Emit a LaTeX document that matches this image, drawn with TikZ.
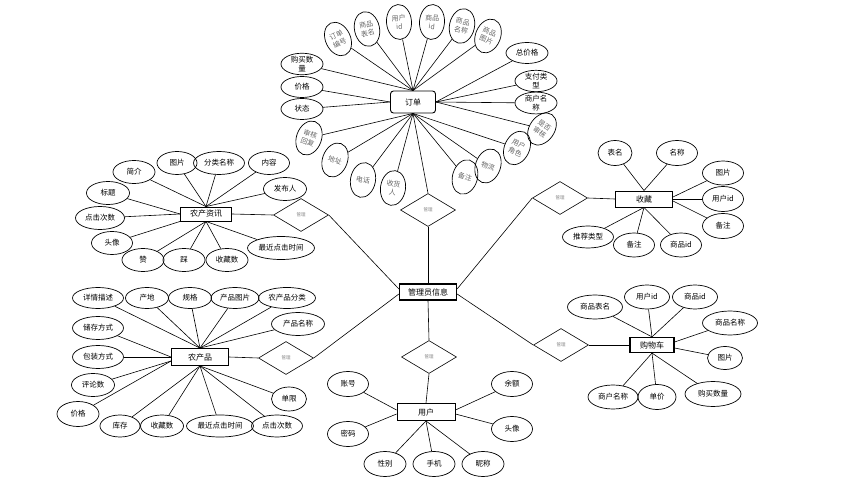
\documentclass[tikz,border=0pt]{standalone}
\usepackage{fontspec}
\setmainfont{Noto Sans CJK SC}
\usetikzlibrary{shapes.geometric}
\begin{document}
\begin{tikzpicture}[x=1pt,y=-1pt,
 attr/.style={ellipse, draw, line width=0.7pt, inner sep=0pt, minimum width=42pt, minimum height=23pt, font=\fontsize{7.5}{8.5}\selectfont, align=center},
 rattr/.style={attr, minimum width=25pt, minimum height=35pt, text=black!60, font=\fontsize{7}{8.5}\selectfont},
 ent/.style={draw, line width=0.9pt, inner sep=0pt, minimum width=57pt, minimum height=16pt, font=\fontsize{8}{9}\selectfont},
 rel/.style={diamond, draw, line width=0.6pt, inner sep=0pt, aspect=1.67, minimum width=55pt, minimum height=33pt, font=\fontsize{4.5}{5}\selectfont, text=black!50},
 conn/.style={line width=0.6pt}]
\useasboundingbox (0,0) rectangle (844,486);
% ---------- entities ----------
\node[ent, rounded corners=3pt, minimum width=45pt, minimum height=22pt] (dd) at (413,102) {订单};
\node[ent, line width=1.2pt] (gl) at (428,292) {管理员信息};
\node[ent, minimum width=51pt, minimum height=14pt] (zx) at (206,214) {农产资讯};
\node[ent, minimum height=17pt] (cp) at (200,357) {农产品};
\node[ent] (sc) at (644,199) {收藏};
\node[ent, line width=1.2pt, minimum width=44pt, minimum height=15pt] (gw) at (652,345) {购物车};
\node[ent, minimum width=58pt, minimum height=17pt] (yh) at (426,412) {用户};
% ---------- relationships ----------
\node[rel] (r1) at (428,210) {管理};
\node[rel] (r2) at (301,215) {管理};
\node[rel] (r3) at (286,358) {管理};
\node[rel] (r4) at (560,198) {管理};
\node[rel] (r5) at (561,345) {管理};
\node[rel] (r6) at (429,357) {管理};
\draw[conn] (dd.south) -- (r1.north);
\draw[conn] (r1.south) -- (gl.north);
\draw[conn] (zx.east) -- (r2.west);
\draw[conn] (r2.east) -- ([yshift=3pt]gl.west);
\draw[conn] (cp.east) -- (r3.west);
\draw[conn] (r3.east) -- ([yshift=-2pt]gl.west);
\draw[conn] ([yshift=3pt]gl.east) -- (r4.west);
\draw[conn] (r4.east) -- (sc.west);
\draw[conn] ([yshift=-2pt]gl.east) -- (r5.west);
\draw[conn] (r5.east) -- (gw.west);
\draw[conn] (gl.south) -- (r6.north);
\draw[conn] (r6.south) -- (yh.north);
% ---------- 订单 attributes ----------
\node[rattr, rotate=25] (o1) at (338,39) {订单\\编号};
\node[rattr, rotate=12] (o2) at (367,29) {商品\\表名};
\node[rattr, rotate=4] (o3) at (399,22) {用户\\id};
\node[rattr, rotate=-4] (o4) at (432,22) {商品\\id};
\node[rattr, rotate=-12] (o5) at (462,26) {商品\\名称};
\node[rattr, rotate=-22] (o6) at (488,36) {商品\\图片};
\node[attr, minimum height=21pt] (o7) at (527,53) {总价格};
\node[attr, minimum height=20pt] (o8) at (536,81) {支付类\\型};
\node[attr, minimum height=20pt] (o9) at (536,103) {商户名\\称};
\node[rattr, rotate=-35] (o10) at (542,129) {是否\\审核};
\node[rattr, rotate=-25] (o11) at (517,148) {用户\\角色};
\node[rattr, rotate=-20] (o12) at (488,166) {物流};
\node[rattr, rotate=-15] (o13) at (465,177) {备注};
\node[rattr, rotate=-8] (o14) at (393,188) {收货\\人};
\node[rattr, rotate=-10] (o15) at (363,180) {电话};
\node[rattr, rotate=-20] (o16) at (335,160) {地址};
\node[rattr, rotate=-20] (o17) at (309,138) {审核\\回复};
\node[attr, minimum height=21pt] (o18) at (302,109) {状态};
\node[attr, minimum height=21pt] (o19) at (302,87) {价格};
\node[attr, minimum height=21pt] (o20) at (302,64) {购买数\\量};
\foreach \n in {o1,o2,o3,o4,o5,o6,o20} \draw[conn] (\n) -- (dd.north);
\foreach \n in {o7,o8,o9,o10} \draw[conn] (\n) -- (dd.east);
\foreach \n in {o18,o19} \draw[conn] (\n) -- (dd.west);
\foreach \n in {o11,o12,o13,o14,o15,o16,o17} \draw[conn] (\n) -- (dd.south);
% ---------- 农产资讯 attributes ----------
\node[attr] (z1) at (134,172) {简介};
\node[attr, minimum width=40pt] (z2) at (177,163) {图片};
\node[attr, minimum width=51pt] (z3) at (219,163) {分类名称};
\node[attr, minimum width=41pt] (z4) at (269,163) {内容};
\node[attr, minimum width=43pt] (z5) at (285,189) {发布人};
\node[attr, minimum width=43pt] (z6) at (108,193) {标题};
\node[attr, minimum width=49pt] (z7) at (100,218) {点击次数};
\node[attr, minimum width=41pt] (z8) at (112,243) {头像};
\node[attr] (z9) at (143,260) {赞};
\node[attr] (z10) at (184,260) {踩};
\node[attr] (z11) at (227,260) {收藏数};
\node[attr, minimum width=67pt] (z12) at (281,248) {最近点击时间};
\foreach \n in {z1,z2,z3,z4,z5} \draw[conn] (\n) -- (zx.north);
\foreach \n in {z6,z7} \draw[conn] (\n) -- (zx.west);
\draw[conn] (z8) -- (zx.south west);
\foreach \n in {z9,z10,z11,z12} \draw[conn] (\n) -- (zx.south);
% ---------- 农产品 attributes ----------
\node[attr, minimum width=51pt, minimum height=21pt] (p1) at (98,298) {详情描述};
\node[attr, minimum width=43pt, minimum height=21pt] (p2) at (147,298) {产地};
\node[attr, minimum width=43pt, minimum height=21pt] (p3) at (190,298) {规格};
\node[attr, minimum width=48pt, minimum height=21pt] (p4) at (235,298) {产品图片};
\node[attr, minimum width=57pt, minimum height=21pt] (p5) at (287,298) {农产品分类};
\node[attr, minimum width=53pt] (p6) at (298,324) {产品名称};
\node[attr, minimum width=51pt] (p7) at (98,328) {储存方式};
\node[attr, minimum width=51pt] (p8) at (98,357) {包装方式};
\node[attr, minimum width=43pt] (p9) at (93,385) {评论数};
\node[attr, minimum height=25pt] (p10) at (78,414) {价格};
\node[attr, minimum width=40pt, minimum height=22pt] (p11) at (120,426) {库存};
\node[attr, minimum width=43pt, minimum height=22pt] (p12) at (162,426) {收藏数};
\node[attr, minimum width=67pt, minimum height=22pt] (p13) at (220,426) {最近点击时间};
\node[attr, minimum width=51pt, minimum height=22pt] (p14) at (277,426) {点击次数};
\node[attr, minimum width=35pt, minimum height=24pt] (p15) at (289,399) {单限};
\foreach \n in {p1,p2,p3,p4,p5,p6} \draw[conn] (\n) -- (cp.north);
\foreach \n in {p7,p8} \draw[conn] (\n) -- (cp.west);
\foreach \n in {p9,p10} \draw[conn] (\n) -- ([yshift=-4pt]cp.west);
\foreach \n in {p11,p12,p13,p14,p15} \draw[conn] (\n) -- (cp.south);
% ---------- 收藏 attributes ----------
\node[attr, minimum width=34pt, minimum height=25pt] (s1) at (615,153) {表名};
\node[attr, minimum width=41pt, minimum height=25pt] (s2) at (677,153) {名称};
\node[attr, minimum width=41pt, minimum height=24pt] (s3) at (723,173) {图片};
\node[attr, minimum width=41pt, minimum height=25pt] (s4) at (723,199) {用户id};
\node[attr, minimum width=41pt, minimum height=25pt] (s5) at (723,226) {备注};
\node[attr, minimum width=51pt, minimum height=22pt] (s6) at (588,237) {推荐类型};
\node[attr, minimum width=41pt, minimum height=24pt] (s7) at (634,245) {备注};
\node[attr, minimum width=41pt, minimum height=24pt] (s8) at (681,245) {商品id};
\foreach \n in {s1,s2} \draw[conn] (\n) -- (sc.north);
\draw[conn] (s3) -- ([yshift=2pt]sc.east);
\draw[conn] (s4) -- (sc.east);
\draw[conn] (s5) -- ([yshift=-2pt]sc.east);
\foreach \n in {s6,s7,s8} \draw[conn] (\n) -- (sc.south);
% ---------- 购物车 attributes ----------
\node[attr, minimum width=55pt, minimum height=24pt] (g1) at (595,307) {商品表名};
\node[attr, minimum width=45pt, minimum height=24pt] (g2) at (647,297) {用户id};
\node[attr, minimum width=45pt, minimum height=24pt] (g3) at (695,297) {商品id};
\node[attr, minimum width=55pt, minimum height=24pt] (g4) at (730,323) {商品名称};
\node[attr, minimum width=35pt, minimum height=23pt] (g5) at (725,358) {图片};
\node[attr, minimum width=50pt, minimum height=24pt] (g6) at (613,397) {商户名称};
\node[attr, minimum width=38pt, minimum height=25pt] (g7) at (657,397) {单价};
\node[attr, minimum width=56pt, minimum height=25pt] (g8) at (713,394) {购买数量};
\foreach \n in {g1,g2,g3} \draw[conn] (\n) -- (gw.north);
\draw[conn] (g4) -- ([yshift=3pt]gw.east);
\draw[conn] (g5) -- ([yshift=-3pt]gw.east);
\foreach \n in {g6,g7,g8} \draw[conn] (\n) -- (gw.south);
% ---------- 用户 attributes ----------
\node[attr, minimum width=41pt, minimum height=25pt] (u1) at (348,384) {账号};
\node[attr, minimum width=41pt, minimum height=25pt] (u2) at (348,434) {密码};
\node[attr, minimum width=42pt, minimum height=25pt] (u3) at (385,464) {性别};
\node[attr, minimum width=42pt, minimum height=25pt] (u4) at (434,464) {手机};
\node[attr, minimum width=42pt, minimum height=25pt] (u5) at (483,464) {昵称};
\node[attr, minimum width=41pt, minimum height=25pt] (u6) at (512,384) {余额};
\node[attr, minimum width=41pt, minimum height=25pt] (u7) at (512,429) {头像};
\draw[conn] (u1) -- ([yshift=2pt]yh.west);
\draw[conn] (u2) -- ([yshift=-2pt]yh.west);
\draw[conn] (u6) -- ([yshift=2pt]yh.east);
\draw[conn] (u7) -- ([yshift=-2pt]yh.east);
\foreach \n in {u3,u4,u5} \draw[conn] (\n) -- (yh.south);
\end{tikzpicture}
\end{document}
